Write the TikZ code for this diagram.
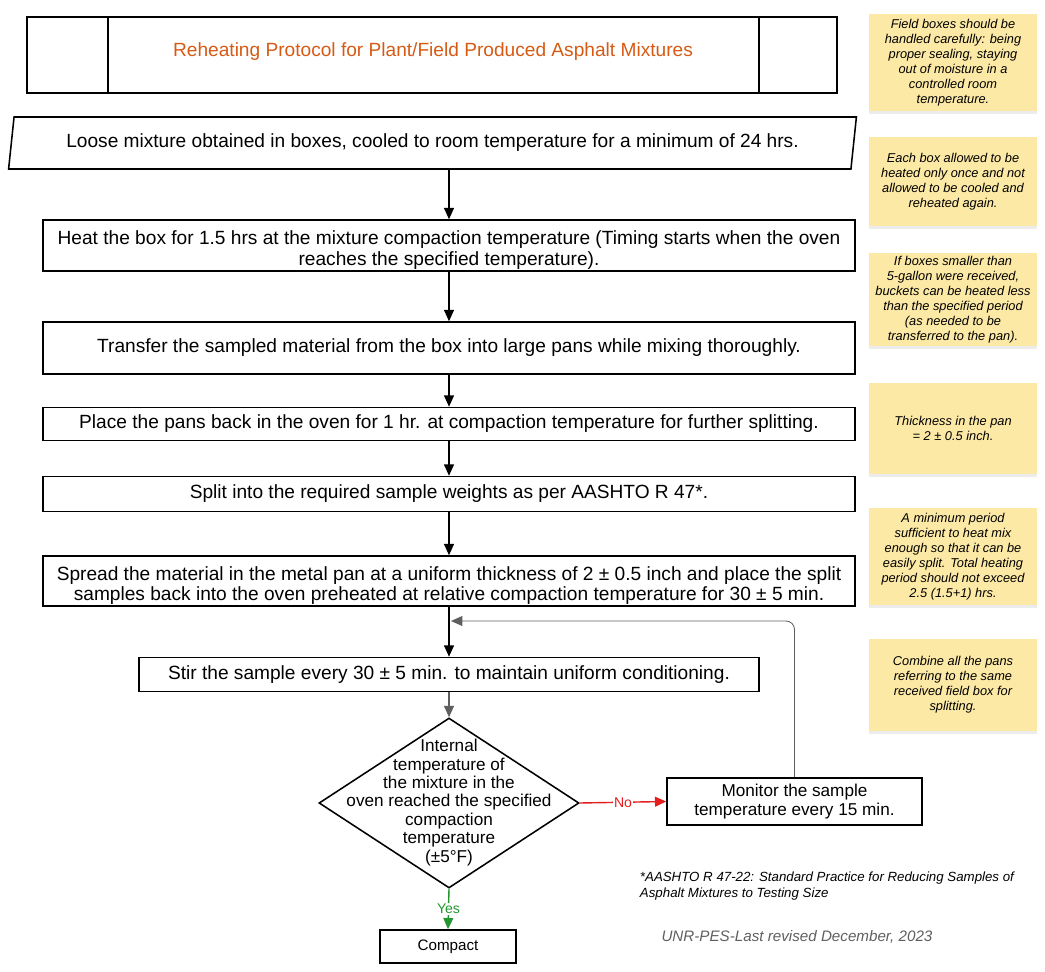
\documentclass[tikz,border=0pt]{standalone}
\usepackage{fontspec}
\setmainfont{Liberation Sans}
\usetikzlibrary{arrows.meta, shapes.geometric, shadows}
\definecolor{figO}{RGB}{214,90,20}
\definecolor{figR}{RGB}{228,30,30}
\definecolor{figG}{RGB}{36,150,48}
\definecolor{figK}{RGB}{95,95,95}
\definecolor{noteY}{RGB}{252,233,165}
\tikzset{
  stepbox/.style={draw, line width=1.1pt, minimum width=20.3cm, align=center, inner sep=0pt,
    font=\fontsize{13.6}{14.4}\selectfont},
  steptxt/.style={align=center, inner sep=0pt, font=\fontsize{13.6}{14.4}\selectfont},
  note/.style={fill=noteY, minimum width=4.2cm, align=center, inner sep=0pt,
    font=\fontsize{9.1}{10.6}\selectfont\itshape,
    drop shadow={opacity=0.15, shadow xshift=0pt, shadow yshift=-2pt}},
  flow/.style={-{Triangle[length=8pt,width=7pt]}, line width=1pt},
}

\begin{document}
\begin{tikzpicture}[x=0.025cm, y=-0.025cm]
\useasboundingbox (0,0) rectangle (1045,972);
% ======== TITLE ========
\node[draw, line width=1.1pt, minimum width=20.25cm, minimum height=1.9cm] (title) at (432,55) {};
\draw[line width=1.1pt] (title.north -| 108,0) -- (title.south -| 108,0);
\draw[line width=1.1pt] (title.north -| 759,0) -- (title.south -| 759,0);
\node[text=figO, font=\fontsize{13.6}{14}\selectfont] (titletxt) at (433,52) {Reheating Protocol for Plant/Field Produced Asphalt Mixtures};
% ======== STEPS ========
\node[draw, line width=1.1pt, trapezium, trapezium left angle=75, trapezium right angle=105,
  trapezium stretches=true, minimum width=21.225cm, minimum height=1.3cm, inner sep=0pt,
  font=\fontsize{13.6}{14.4}\selectfont] (loose) at (432.5,143)
  {Loose mixture obtained in boxes, cooled to room temperature for a minimum of 24 hrs.};
\node[stepbox, minimum height=1.275cm] (heat) at (449,245.5) {};
\node[steptxt] (heattxt) at (449,250)
  {Heat the box for 1.5 hrs at the mixture compaction temperature (Timing starts when the oven\\ reaches the specified temperature).};
\node[stepbox, minimum height=1.3cm] (transfer) at (449,348)
  {Transfer the sampled material from the box into large pans while mixing thoroughly.};
\node[stepbox, minimum height=0.825cm] (pans) at (449,424)
  {Place the pans back in the oven for 1 hr. at compaction temperature for further splitting.};
\node[stepbox, minimum height=0.875cm] (split) at (449,494)
  {Split into the required sample weights as per AASHTO R 47*.};
\node[stepbox, minimum height=1.25cm] (spread) at (449,581) {};
\node[steptxt] (spreadtxt) at (449,585.5)
  {Spread the material in the metal pan at a uniform thickness of 2 ± 0.5 inch and place the split\\ samples back into the oven preheated at relative compaction temperature for 30 ± 5 min.};
\node[stepbox, minimum width=15.5cm, minimum height=0.85cm] (stir) at (449,674.5)
  {Stir the sample every 30 ± 5 min. to maintain uniform conditioning.};
% decision: empty diamond, text on top
\node[draw, line width=1.1pt, diamond, minimum width=6.5cm, minimum height=4.25cm, inner sep=0pt] (check) at (449,803) {};
\node[align=center, font=\fontsize{12.2}{13.1}\selectfont] (checktxt) at (449,802.5)
  {Internal\\ temperature of\\ the mixture in the\\ oven reached the specified\\ compaction\\ temperature\\ (±5°F)};
\node[draw, line width=1.1pt, minimum width=6.375cm, minimum height=1.175cm, align=center,
  inner sep=0pt, font=\fontsize{12.2}{13}\selectfont] (monitor) at (794.5,801.5)
  {Monitor the sample\\ temperature every 15 min.};
\node[draw, line width=1.1pt, minimum width=3.4cm, minimum height=0.825cm, inner sep=0pt,
  font=\fontsize{10.8}{12}\selectfont] (compact) at (448,946.5) {Compact};
% ======== CONNECTORS ========
\draw[flow] (loose.south -| heat.north) -- (heat.north);
\draw[flow] (heat.south) -- (transfer.north);
\draw[flow] (transfer.south) -- (pans.north);
\draw[flow] (pans.south) -- (split.north);
\draw[flow] (split.south) -- (spread.north);
\draw[flow] (spread.south) -- (stir.north);
\draw[flow, figK] (stir.south) -- (check.north);
\draw[flow, figR] (check.east) -- node[fill=white, inner sep=1pt, font=\fontsize{10}{12}\selectfont] (nolbl) {No} (monitor.west);
\draw[flow, figG] (check.south) -- node[fill=white, inner sep=1pt, font=\fontsize{10}{12}\selectfont] (yeslbl) {Yes} (compact.north);
% loop back from monitoring
\coordinate (back) at (451,621);
\draw[-{Triangle[length=8pt,width=7pt]}, figK, line width=0.6pt, rounded corners=6pt] (monitor.north) |- (back);
% ======== NOTES ========
\node[note, minimum height=2.425cm] (note1) at (953,62.5)
  {Field boxes should be\\ handled carefully: being\\ proper sealing, staying\\ out of moisture in a\\ controlled room\\ temperature.};
\node[note, minimum height=2.225cm] (note2) at (953,181.5)
  {Each box allowed to be\\ heated only once and not\\ allowed to be cooled and\\ reheated again.};
\node[note, minimum height=2.325cm] (note3) at (953,299.5)
  {If boxes smaller than\\ 5-gallon were received,\\ buckets can be heated less\\ than the specified period\\ (as needed to be\\ transferred to the pan).};
\node[note, minimum height=2.275cm] (note4) at (953,428.5)
  {Thickness in the pan\\ = 2 ± 0.5 inch.};
\node[note, minimum height=2.425cm] (note5) at (953,556.5)
  {A minimum period\\ sufficient to heat mix\\ enough so that it can be\\ easily split. Total heating\\ period should not exceed\\ 2.5 (1.5+1) hrs.};
\node[note, minimum height=2.3cm] (note6) at (953,685)
  {Combine all the pans\\ referring to the same\\ received field box for\\ splitting.};
% ======== FOOTER ========
\node[anchor=west, align=left, font=\fontsize{9.45}{11.4}\selectfont\itshape] (refnote) at (635,886)
  {*AASHTO R 47-22: Standard Practice for Reducing Samples of\\ Asphalt Mixtures to Testing Size};
\node[text=figK, font=\fontsize{10.8}{13}\selectfont\itshape] (revised) at (797,937)
  {UNR-PES-Last revised December, 2023};
\end{tikzpicture}
\end{document}
